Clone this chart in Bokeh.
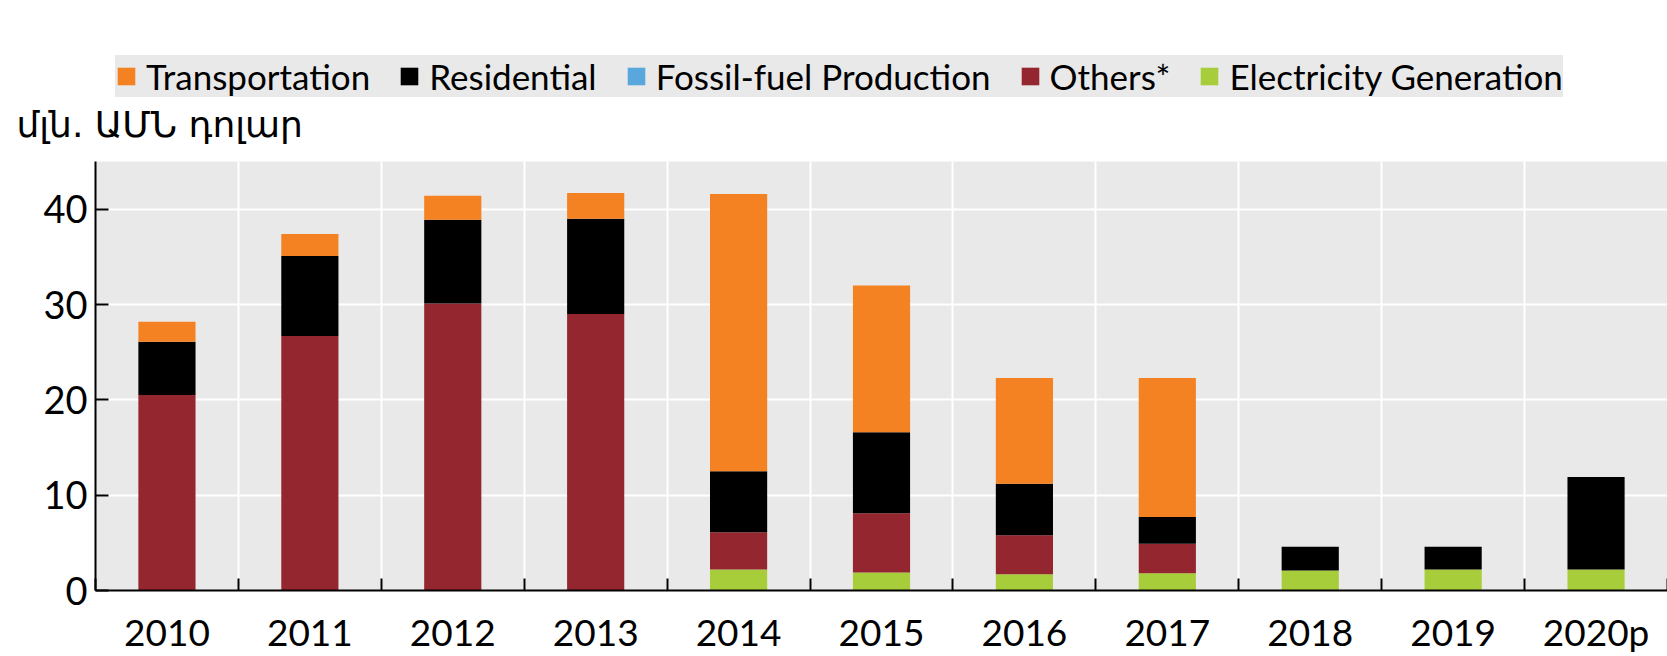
from bokeh.plotting import figure
from bokeh.models import Range1d, FixedTicker, Legend, LegendItem, ColumnDataSource
from bokeh.layouts import column
from bokeh.embed import file_html
from bokeh.resources import INLINE

years = ["2010", "2011", "2012", "2013", "2014", "2015", "2016", "2017", "2018", "2019", "2020p"]
electricity = [0, 0, 0, 0, 2.2, 1.9, 1.7, 1.8, 2.1, 2.2, 2.2]
fossil = [0, 0, 0, 0, 0, 0, 0, 0, 0, 0, 0]
others = [20.5, 26.7, 30.1, 29.0, 3.9, 6.2, 4.1, 3.1, 0, 0, 0]
residential = [5.6, 8.4, 8.8, 10.0, 6.4, 8.5, 5.4, 2.8, 2.5, 2.4, 9.7]
transport = [2.1, 2.3, 2.5, 2.7, 29.1, 15.4, 11.1, 14.6, 0, 0, 0]
y_ticks = [0, 10, 20, 30, 40]
y_label = "մլն. ԱՄՆ դոլար"

names = ["Electricity Generation", "Fossil-fuel Production", "Others*", "Residential", "Transportation"]
cols = ["elec", "fossil", "others", "res", "trans"]
colors = ["#a8cd3a", "#5aa7de", "#93262e", "#000000", "#f48222"]

centers = [i + 0.5 for i in range(len(years))]
bounds = [i for i in range(len(years) + 1)]

source = ColumnDataSource(dict(x=centers, elec=electricity, fossil=fossil, others=others,
                               res=residential, trans=transport))

FONT = "Lato"
W = 1667
LEFT = 95

# ---------- legend strip + unit label ----------
top = figure(width=W, height=148, output_backend="svg", toolbar_location=None,
             x_range=Range1d(-2, -1), y_range=Range1d(0, 1),
             x_axis_type=None, y_axis_type=None,
             min_border_left=LEFT, min_border_right=0, min_border_top=0, min_border_bottom=50,
             title_location="below")
top.background_fill_color = "white"
top.border_fill_color = "white"
top.outline_line_color = None
top.grid.visible = False
top.title.text = y_label
top.title.text_font = "DejaVu Sans"
top.title.text_font_size = "36px"
top.title.text_font_style = "normal"
top.title.text_color = "black"
top.title.align = "left"
top.title.offset = -79
top.title.standoff = 8

# legend swatches come from the same stacked series (kept out of view in this strip)
legend_rs = top.vbar_stack(cols, x="x", width=0.4, color=colors, source=source, line_color=None)

order = [4, 3, 1, 2, 0]
items = [LegendItem(label=names[i], renderers=[legend_rs[i]]) for i in order]
legend = Legend(items=items, orientation="horizontal", location=(20, 0),
                background_fill_color="#e9e9e9", background_fill_alpha=1,
                border_line_color=None,
                label_text_font=FONT, label_text_font_size="35px", label_text_color="black",
                glyph_width=22, glyph_height=22, label_standoff=9, spacing=28,
                padding=35, margin=0)
top.add_layout(legend, "center")

# ---------- main chart ----------
p = figure(width=W, height=508, output_backend="svg", toolbar_location=None,
           x_range=Range1d(0, len(years)), y_range=Range1d(0, 45), title_location=None,
           min_border_left=LEFT, min_border_right=0, min_border_top=13, min_border_bottom=64)
p.background_fill_color = "#e9e9e9"
p.border_fill_color = "white"
p.outline_line_color = None

p.vbar_stack(cols, x="x", width=0.4, color=colors, source=source, line_color=None)

p.yaxis.ticker = FixedTicker(ticks=y_ticks)
p.yaxis.major_tick_in = 13
p.yaxis.major_tick_out = 0
p.yaxis.minor_tick_line_color = None
p.yaxis.axis_line_width = 2
p.yaxis.major_tick_line_width = 2
p.yaxis.major_label_standoff = 8
p.yaxis.major_label_text_font = FONT
p.yaxis.major_label_text_font_size = "38px"
p.yaxis.major_label_text_color = "black"

p.xaxis.ticker = FixedTicker(ticks=centers, minor_ticks=bounds)
p.xaxis.major_label_overrides = {c: y for c, y in zip(centers, years)}
p.xaxis.major_tick_line_color = None
p.xaxis.major_tick_in = 0
p.xaxis.major_tick_out = 0
p.xaxis.minor_tick_in = 12
p.xaxis.minor_tick_out = 0
p.xaxis.minor_tick_line_width = 2
p.xaxis.minor_tick_line_color = "black"
p.xaxis.axis_line_width = 2
p.xaxis.major_label_standoff = 18
p.xaxis.major_label_text_font = FONT
p.xaxis.major_label_text_font_size = "37px"
p.xaxis.major_label_text_color = "black"

p.ygrid.ticker = FixedTicker(ticks=y_ticks)
p.ygrid.grid_line_color = "white"
p.ygrid.grid_line_width = 2
p.xgrid.ticker = FixedTicker(ticks=bounds)
p.xgrid.grid_line_color = "white"
p.xgrid.grid_line_width = 2

layout = column(top, p, spacing=0)
open("out.html", "w").write(file_html(layout, INLINE))
